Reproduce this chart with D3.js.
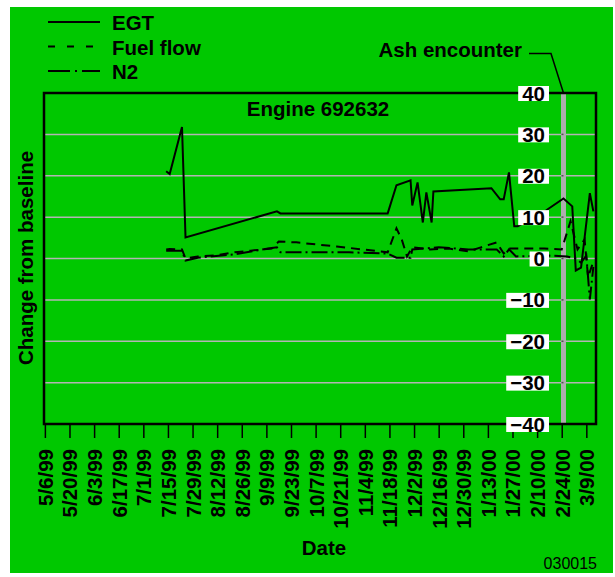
<!DOCTYPE html>
<html>
<head>
<meta charset="utf-8">
<script src="https://cdn.jsdelivr.net/npm/d3@7"></script>
<style>
body { margin: 0; background: #fff; }
text { font-family: "Liberation Sans", Arial, Helvetica, sans-serif; font-weight: bold; }
</style>
</head>
<body>
<div class="visHolder"></div>
<script>
// values
var xTickLabels = ["5/6/99","5/20/99","6/3/99","6/17/99","7/1/99","7/15/99","7/29/99","8/12/99",
  "8/26/99","9/9/99","9/23/99","10/7/99","10/21/99","11/4/99","11/18/99","12/2/99","12/16/99",
  "12/30/99","1/13/00","1/27/00","2/10/00","2/24/00","3/9/00"];
var yTicks = [40, 30, 20, 10, 0, -10, -20, -30, -40];

var egtDates = ["7/14/99","7/16/99","7/23/99","7/25/99","9/15/99","9/17/99","11/17/99","11/22/99",
  "11/30/99","12/1/99","12/4/99","12/7/99","12/9/99","12/12/99","12/13/99","1/15/00","1/20/00",
  "1/22/00","1/25/00","1/28/00","1/30/00","2/15/00","2/25/00","3/1/00","3/3/00","3/6/00","3/11/00","3/13/00"];
var egtValues = [21.1,20.4,31.8,5.1,11.4,10.9,10.9,17.7,18.9,12.8,18.4,8.7,16.0,8.7,16.2,17.0,14.3,
  14.3,20.8,7.8,7.8,11.6,14.5,12.6,-2.9,-2.2,15.8,11.4];

var fuelDates = ["7/14/99","7/16/99","7/23/99","7/25/99","8/1/99","8/10/99","8/22/99","8/31/99",
  "9/12/99","9/16/99","9/26/99","10/19/99","11/17/99","11/22/99","11/25/99","11/28/99","12/1/99",
  "12/11/99","12/22/99","1/2/00","1/9/00","1/18/00","1/22/00","1/25/00","2/14/00","2/24/00",
  "2/29/00","3/4/00","3/8/00","3/10/00","3/13/00"];
var fuelValues = [2.2,2.3,2.2,0,0.5,0.7,1.5,1.9,2.4,4.1,3.9,2.9,1.5,7.3,4.6,0.5,2.7,2.2,2.4,1.7,
  2.7,3.9,1.2,2.4,2.4,2.2,9.0,2.2,4.6,-4.5,-0.7];

var n2Dates = ["7/14/99","7/23/99","7/25/99","8/1/99","8/22/99","9/10/99","9/15/99","9/17/99",
  "10/26/99","11/17/99","11/22/99","11/30/99","12/1/99","12/16/99","1/2/00","1/18/00","1/22/00",
  "1/25/00","1/29/00","2/17/00","2/27/00","3/3/00","3/6/00","3/9/00","3/11/00","3/13/00"];
var n2Values = [1.9,1.9,-0.5,0.2,1.0,2.4,2.7,1.5,1.5,1.2,0.2,0.2,2.2,2.7,2.2,2.2,0.5,2.2,0.5,
  0.7,0.5,0,-1.0,0.7,-9.9,-2.0];

var ashDate = "2/25/00";
var seriesNames = ["EGT", "Fuel flow", "N2"];

var parse = d3.timeParse("%m/%d/%y");
var fmt = function(v) { return v < 0 ? "\u2212" + Math.abs(v) : "" + v; };

var plotLeft = 44, plotRight = 596, plotTop = 93, plotBottom = 424;

var svg = d3.select(".visHolder").append("svg")
  .attr("width", 615)
  .attr("height", 577);

svg.append("rect")
  .attr("x", 10).attr("y", 7)
  .attr("width", 603).attr("height", 566)
  .attr("fill", "#00c800");

var xScale = d3.scaleTime()
  .domain([new Date(1999, 4, 5, 12), new Date(2000, 2, 14, 12)])
  .range([plotLeft, plotRight]);

var yScale = d3.scaleLinear()
  .domain([-40, 40])
  .range([plotBottom, plotTop]);

// grid
svg.append("g").selectAll("line")
  .data(yTicks)
  .enter().append("line")
  .attr("x1", plotLeft).attr("x2", plotRight)
  .attr("y1", function(d) { return yScale(d); })
  .attr("y2", function(d) { return yScale(d); })
  .attr("stroke", "#b4b4b4")
  .attr("stroke-width", 1.5);

// ash encounter band
var ashX = xScale(parse(ashDate));
svg.append("rect")
  .attr("x", ashX - 2.5).attr("y", plotTop)
  .attr("width", 5).attr("height", plotBottom - plotTop)
  .attr("fill", "#adadad");
svg.append("g").selectAll("line")
  .data(yTicks)
  .enter().append("line")
  .attr("x1", ashX - 2).attr("x2", ashX)
  .attr("y1", function(d) { return yScale(d); })
  .attr("y2", function(d) { return yScale(d); })
  .attr("stroke", "#505050")
  .attr("stroke-width", 1.5);

// x axis
var xAxis = d3.axisBottom(xScale)
  .tickValues(xTickLabels.map(parse))
  .tickSize(14)
  .tickFormat("");
var xAxisGroup = svg.append("g")
  .attr("id", "x-axis")
  .attr("transform", "translate(0," + plotBottom + ")")
  .call(xAxis);
xAxisGroup.select(".domain").remove();
xAxisGroup.selectAll("line").attr("stroke", "#000").attr("stroke-width", 1.5);

svg.append("g").selectAll("text")
  .data(xTickLabels)
  .enter().append("text")
  .attr("transform", function(d) {
    return "translate(" + (xScale(parse(d)) + 8) + ",449) rotate(-90)";
  })
  .attr("text-anchor", "end")
  .attr("font-size", 20.5)
  .text(function(d) { return d; });

// data lines
var line = d3.line()
  .x(function(d) { return xScale(d[0]); })
  .y(function(d) { return yScale(d[1]); });

function pairs(dates, values) {
  return dates.map(function(d, i) { return [parse(d), values[i]]; });
}

var series = [
  { data: pairs(egtDates, egtValues), dash: null },
  { data: pairs(fuelDates, fuelValues), dash: "9,6" },
  { data: pairs(n2Dates, n2Values), dash: "16,4,2,4" }
];

svg.append("g").selectAll("path")
  .data(series)
  .enter().append("path")
  .attr("d", function(s) { return line(s.data); })
  .attr("fill", "none")
  .attr("stroke", "#000")
  .attr("stroke-width", 2)
  .attr("stroke-dasharray", function(s) { return s.dash; });

// frame
svg.append("rect")
  .attr("x", plotLeft).attr("y", plotTop)
  .attr("width", plotRight - plotLeft).attr("height", plotBottom - plotTop)
  .attr("fill", "none")
  .attr("stroke", "#000")
  .attr("stroke-width", 2.5);

// y tick labels with white boxes
var yLab = svg.append("g").selectAll("g")
  .data(yTicks)
  .enter().append("g")
  .attr("transform", function(d) { return "translate(545," + yScale(d) + ")"; });
yLab.append("text")
  .attr("y", 7.5)
  .attr("text-anchor", "end")
  .attr("font-size", 20.5)
  .text(fmt);
yLab.each(function() {
  var g = d3.select(this);
  var bb = g.select("text").node().getBBox();
  g.insert("rect", "text")
    .attr("x", bb.x - 4).attr("y", -7)
    .attr("width", bb.width + 8).attr("height", 15)
    .attr("fill", "#fff");
});

// titles
svg.append("text")
  .attr("x", 318).attr("y", 116)
  .attr("text-anchor", "middle")
  .attr("font-size", 20.5)
  .text("Engine 692632");

svg.append("text")
  .attr("transform", "translate(33,258) rotate(-90)")
  .attr("text-anchor", "middle")
  .attr("font-size", 20.5)
  .text("Change from baseline");

svg.append("text")
  .attr("x", 324).attr("y", 555)
  .attr("text-anchor", "middle")
  .attr("font-size", 20.5)
  .text("Date");

svg.append("text")
  .attr("x", 597).attr("y", 569)
  .attr("text-anchor", "end")
  .attr("font-size", 16)
  .style("font-weight", "normal")
  .text("030015");

// ash encounter note
svg.append("text")
  .attr("x", 522).attr("y", 57)
  .attr("text-anchor", "end")
  .attr("font-size", 20.5)
  .text("Ash encounter");
svg.append("path")
  .attr("d", "M529,53.5 L551,53.5 L" + ashX + "," + plotTop)
  .attr("fill", "none")
  .attr("stroke", "#000")
  .attr("stroke-width", 1.5);

// legend
var legendDash = [null, "7,12", "22,5,2,5,30"];
var legend = svg.append("g").selectAll("g")
  .data(seriesNames)
  .enter().append("g")
  .attr("transform", function(d, i) { return "translate(0," + (22 + i * 24.5) + ")"; });
legend.append("line")
  .attr("x1", 48).attr("x2", 100)
  .attr("stroke", "#000")
  .attr("stroke-width", 2)
  .attr("stroke-dasharray", function(d, i) { return legendDash[i]; });
legend.append("text")
  .attr("x", 112).attr("y", 8)
  .attr("font-size", 20.5)
  .text(function(d) { return d; });
</script>
</body>
</html>
